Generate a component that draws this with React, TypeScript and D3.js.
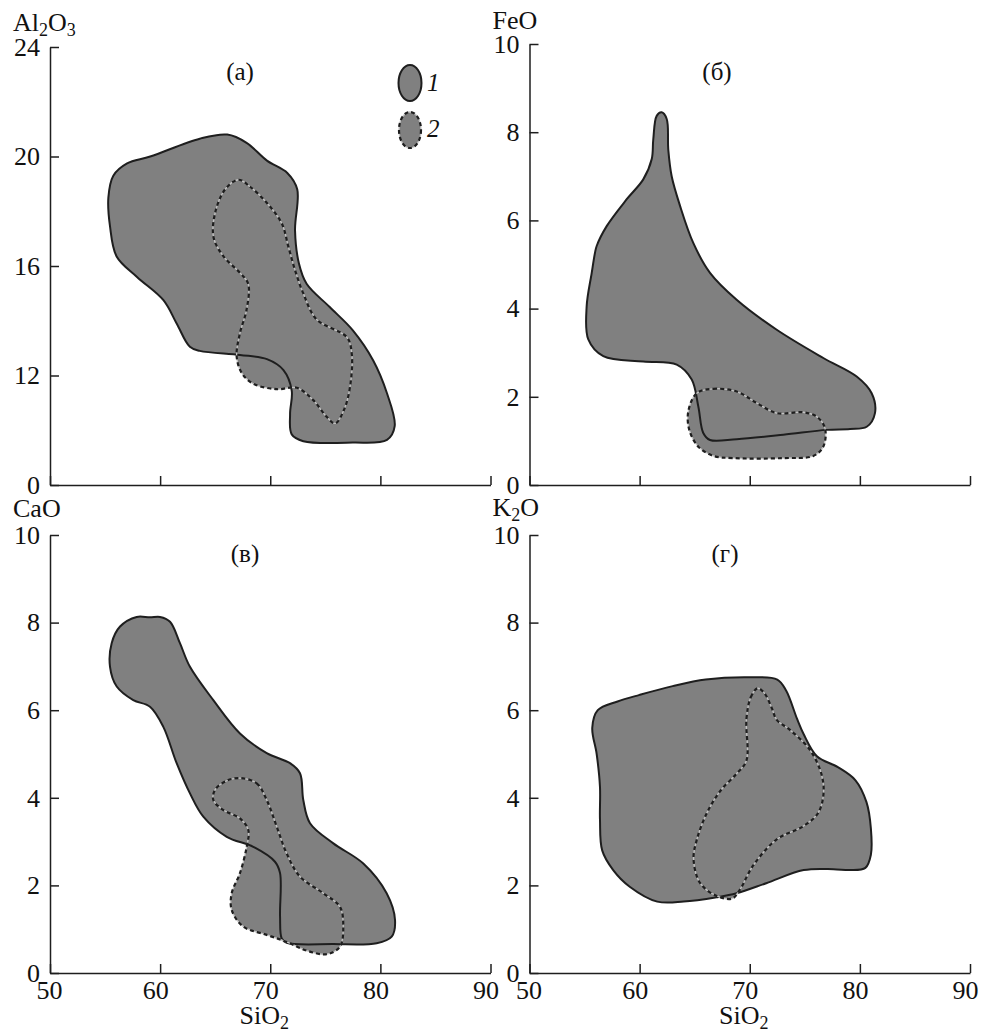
import React, { useEffect, useRef } from "react";
import * as d3 from "d3";

const W = 981;
const H = 1034;
const FILL = "#808080";
const INK = "#1e1e1e";
const FONT = "Liberation Serif, Times New Roman, serif";

const sio2Ticks = [50, 60, 70, 80, 90];
const alTicks = [8, 12, 16, 20, 24];
const alTickLabels = ["0", "12", "16", "20", "24"];
const oxideTicks = [0, 2, 4, 6, 8, 10];

// fields as [SiO2, oxide] pairs; 1 = solid outline, 2 = dashed outline
const al1: [number, number][] = [
  [66.1, 20.8], [63.6, 20.65], [59.1, 20.0], [57.0, 19.75], [55.75, 19.3], [55.3, 18.5],
  [55.45, 17.45], [56.05, 16.35], [57.9, 15.6], [60.3, 14.75], [61.5, 13.9], [62.7, 13.05],
  [63.6, 12.9], [67.25, 12.75], [69.7, 12.6], [71.2, 12.2], [71.95, 11.45], [71.8, 10.6],
  [71.95, 9.85], [73.0, 9.6], [77.5, 9.55], [80.6, 9.65], [81.3, 10.15], [80.6, 11.35],
  [79.35, 12.55], [77.5, 13.65], [75.4, 14.5], [73.3, 15.35], [72.6, 16.1], [72.25, 17.3],
  [72.45, 18.8], [71.55, 19.4], [69.7, 19.85], [67.85, 20.5],
];
const al2: [number, number][] = [
  [67.1, 19.15], [68.15, 18.9], [69.7, 18.3], [71.05, 17.55], [71.65, 16.7], [72.25, 15.85],
  [73.0, 15.0], [74.2, 14.05], [76.95, 13.4], [77.4, 12.8], [77.25, 11.6], [76.7, 10.75],
  [75.9, 10.25], [75.1, 10.5], [73.9, 11.1], [72.4, 11.55], [70.6, 11.5], [68.45, 11.7],
  [67.4, 12.1], [66.95, 12.7], [67.25, 13.55], [67.85, 14.4], [68.0, 15.35], [67.25, 15.75],
  [65.75, 16.35], [64.85, 17.05], [65.0, 17.95], [65.9, 18.8],
];
const fe1: [number, number][] = [
  [62.0, 8.45], [62.46, 8.3], [62.6, 7.61], [62.91, 7.0], [63.67, 6.33], [64.87, 5.49],
  [66.39, 4.81], [68.81, 4.2], [72.45, 3.52], [76.68, 2.88], [79.71, 2.46], [81.07, 2.08],
  [81.37, 1.63], [80.62, 1.32], [79.11, 1.27], [76.99, 1.25], [73.05, 1.14], [68.82, 1.04],
  [66.39, 1.02], [65.78, 1.18], [65.33, 1.78], [64.73, 2.39], [63.37, 2.73], [60.33, 2.8],
  [56.7, 2.92], [55.34, 3.3], [55.19, 4.05], [55.65, 4.81], [55.95, 5.27], [56.1, 5.42],
  [57.01, 5.87], [58.83, 6.48], [60.33, 6.93], [61.1, 7.39], [61.24, 7.84], [61.55, 8.37],
];
const fe2: [number, number][] = [
  [65.18, 2.08], [66.69, 2.18], [68.81, 2.12], [70.63, 1.86], [72.45, 1.63], [74.86, 1.65],
  [76.08, 1.55], [76.83, 1.29], [76.68, 0.87], [75.77, 0.66], [73.05, 0.61], [68.51, 0.61],
  [66.69, 0.66], [65.33, 0.87], [64.51, 1.25], [64.42, 1.67],
];
const ca1: [number, number][] = [
  [59.99, 8.13], [60.9, 8.02], [61.8, 7.53], [62.71, 6.99], [64.83, 6.23], [67.25, 5.47],
  [69.68, 5.02], [71.79, 4.79], [72.7, 4.56], [73.0, 3.95], [73.61, 3.42], [75.73, 2.96],
  [78.45, 2.5], [80.57, 1.82], [81.33, 1.21], [81.03, 0.83], [79.67, 0.68], [75.73, 0.66],
  [71.49, 0.69], [71.04, 0.79], [70.89, 1.29], [70.89, 2.28], [70.43, 2.54], [68.46, 2.88],
  [66.05, 3.11], [63.92, 3.57], [62.71, 4.1], [61.5, 4.79], [60.29, 5.62], [59.08, 6.08],
  [57.56, 6.23], [56.06, 6.54], [55.45, 6.99], [55.6, 7.53], [56.36, 7.91], [57.87, 8.13],
  [59.08, 8.12],
];
const ca2: [number, number][] = [
  [67.25, 4.45], [68.77, 4.33], [69.68, 3.95], [70.59, 3.34], [71.49, 2.73], [72.7, 2.2],
  [74.82, 1.82], [76.33, 1.51], [76.63, 1.06], [76.33, 0.6], [75.13, 0.43], [73.31, 0.51],
  [71.49, 0.71], [69.68, 0.87], [67.55, 1.06], [66.5, 1.44], [66.5, 1.82], [67.25, 2.28],
  [67.86, 2.88], [68.01, 3.26], [67.25, 3.53], [65.74, 3.72], [64.83, 3.95], [64.98, 4.18],
  [66.05, 4.39],
];
const k1: [number, number][] = [
  [56.2, 6.0], [58.0, 6.2], [60.0, 6.35], [63.0, 6.55], [66.0, 6.7], [70.0, 6.75],
  [72.5, 6.7], [73.3, 6.45], [74.3, 5.8], [74.9, 5.45], [76.1, 4.95], [78.0, 4.7],
  [79.6, 4.4], [80.6, 3.9], [81.0, 3.3], [81.0, 2.7], [80.5, 2.4], [79.1, 2.35],
  [77.6, 2.37], [74.9, 2.35], [71.5, 2.05], [68.8, 1.82], [67.0, 1.73], [64.0, 1.63],
  [61.6, 1.63], [59.1, 1.97], [57.6, 2.35], [56.6, 2.8], [56.4, 3.5], [56.4, 4.25],
  [56.1, 5.0], [55.7, 5.6],
];
const k2: [number, number][] = [
  [69.7, 5.8], [70.1, 6.3], [70.7, 6.5], [71.3, 6.4], [72.0, 6.05], [72.45, 5.78],
  [73.65, 5.55], [75.45, 5.1], [76.5, 4.55], [76.7, 4.1], [76.2, 3.65], [74.85, 3.35],
  [72.45, 3.05], [70.3, 2.45], [69.1, 1.9], [68.4, 1.7], [67.0, 1.76], [65.5, 2.05],
  [64.9, 2.6], [65.2, 3.05], [66.1, 3.65], [67.3, 4.15], [68.8, 4.55], [69.7, 4.85],
];

type Panel = {
  left: number; top: number; bottom: number;
  yDomain: [number, number]; yTicks: number[]; yLabels: string[];
  title: [string, boolean][]; titleY: number; label: string; labelX: number; labelY: number;
  f1: [number, number][]; f2: [number, number][]; xLabels: boolean;
};

const panels: Panel[] = [
  { left: 50, top: 47, bottom: 485, yDomain: [8, 24], yTicks: alTicks, yLabels: alTickLabels,
    title: [["Al", false], ["2", true], ["O", false], ["3", true]], titleY: 31,
    label: "(a)", labelX: 240, labelY: 80, f1: al1, f2: al2, xLabels: false },
  { left: 529.5, top: 44, bottom: 485, yDomain: [0, 10], yTicks: oxideTicks, yLabels: oxideTicks.map(String),
    title: [["FeO", false]], titleY: 29, label: "(б)", labelX: 717, labelY: 80, f1: fe1, f2: fe2, xLabels: false },
  { left: 50, top: 535, bottom: 973, yDomain: [0, 10], yTicks: oxideTicks, yLabels: oxideTicks.map(String),
    title: [["CaO", false]], titleY: 517, label: "(в)", labelX: 245, labelY: 562, f1: ca1, f2: ca2, xLabels: true },
  { left: 529.5, top: 535, bottom: 973, yDomain: [0, 10], yTicks: oxideTicks, yLabels: oxideTicks.map(String),
    title: [["K", false], ["2", true], ["O", false]], titleY: 516, label: "(г)", labelX: 725, labelY: 562,
    f1: k1, f2: k2, xLabels: true },
];

const drawDashed = (sel: any, shape: string, attrs: Record<string, string | number>) => {
  const under = sel.append(shape).attr("fill", "none").attr("stroke", "#c4c4c4").attr("stroke-width", 1.3);
  const over = sel.append(shape).attr("fill", "none").attr("stroke", INK)
    .attr("stroke-width", 2.2).attr("stroke-dasharray", "4 3");
  Object.entries(attrs).forEach(([k, v]) => { under.attr(k, v); over.attr(k, v); });
};

const addTitle = (sel: any, x: number, y: number, parts: [string, boolean][], anchor = "start") => {
  const t = sel.append("text").attr("x", x).attr("y", y).attr("font-family", FONT)
    .attr("font-size", 26).attr("fill", "#111").attr("text-anchor", anchor);
  let shifted = false;
  parts.forEach(([s, sub]) => {
    const ts = t.append("tspan").text(s);
    if (sub) {
      ts.attr("font-size", 18);
      if (!shifted) { ts.attr("dy", 5); shifted = true; }
    } else if (shifted) { ts.attr("dy", -5); shifted = false; }
  });
};

const App = () => {
  const ref = useRef<SVGSVGElement>(null);

  useEffect(() => {
    const svg = d3.select(ref.current);
    svg.selectAll("*").remove();
    svg.append("rect").attr("width", W).attr("height", H).attr("fill", "#fff");

    panels.forEach((p) => {
      const g = svg.append("g");
      const x = d3.scaleLinear().domain([50, 90]).range([p.left, p.left + 440.5]);
      const y = d3.scaleLinear().domain(p.yDomain).range([p.bottom, p.top]);
      const line = d3.line<[number, number]>()
        .x((d) => x(d[0])).y((d) => y(d[1]))
        .curve(d3.curveCatmullRomClosed.alpha(0.5));
      const d1 = line(p.f1) as string;
      const d2 = line(p.f2) as string;

      g.append("path").attr("d", d1).attr("fill", FILL);
      g.append("path").attr("d", d2).attr("fill", FILL);
      g.append("path").attr("d", d1).attr("fill", "none").attr("stroke", INK).attr("stroke-width", 2);
      drawDashed(g, "path", { d: d2 });

      const xAxis = d3.axisBottom(x).tickValues(sio2Ticks).tickSizeInner(-9).tickSizeOuter(0).tickPadding(8);
      if (!p.xLabels) xAxis.tickFormat(() => "");
      const gx = g.append("g").attr("transform", `translate(0,${p.bottom})`).call(xAxis)
        .attr("font-size", 26).attr("font-family", FONT);
      gx.selectAll(".tick text").attr("dx", (_d: any, i: number) => (i === 0 ? -1 : -5));
      const yAxis = d3.axisLeft(y).tickValues(p.yTicks).tickSizeInner(-9).tickSizeOuter(0).tickPadding(10)
        .tickFormat((_d, i) => p.yLabels[i]);
      const gy = g.append("g").attr("transform", `translate(${p.left},0)`).call(yAxis)
        .attr("font-size", 26).attr("font-family", FONT);
      [gx, gy].forEach((a) => {
        a.select(".domain").attr("stroke", INK).attr("stroke-width", 1.5);
        a.selectAll(".tick line").attr("stroke", INK).attr("stroke-width", 1.5);
        a.selectAll(".tick text").attr("fill", "#111");
      });

      addTitle(g, p.left - 37, p.titleY, p.title);
      g.append("text").attr("x", p.labelX).attr("y", p.labelY).attr("text-anchor", "middle")
        .attr("font-family", FONT).attr("font-size", 25).attr("fill", "#111").text(p.label);
      if (p.xLabels) {
        addTitle(g, x(70) - 6, 1024, [["SiO", false], ["2", true]], "middle");
      }
    });

    // legend in panel (a)
    const lg = svg.append("g");
    lg.append("ellipse").attr("cx", 410).attr("cy", 83).attr("rx", 11.5).attr("ry", 18)
      .attr("fill", FILL).attr("stroke", INK).attr("stroke-width", 2);
    lg.append("ellipse").attr("cx", 410).attr("cy", 130).attr("rx", 11).attr("ry", 18).attr("fill", FILL);
    drawDashed(lg, "ellipse", { cx: 410, cy: 130, rx: 11, ry: 18 });
    [["1", 91], ["2", 137]].forEach(([t, yy]) => {
      lg.append("text").attr("x", 427).attr("y", yy as number).attr("font-family", FONT)
        .attr("font-style", "italic").attr("font-size", 25).attr("fill", "#111").text(t as string);
    });
  }, []);

  return (
    <svg ref={ref} width={W} height={H} style={{ position: "absolute", left: 0, top: 0 }} />
  );
};

export default App;
